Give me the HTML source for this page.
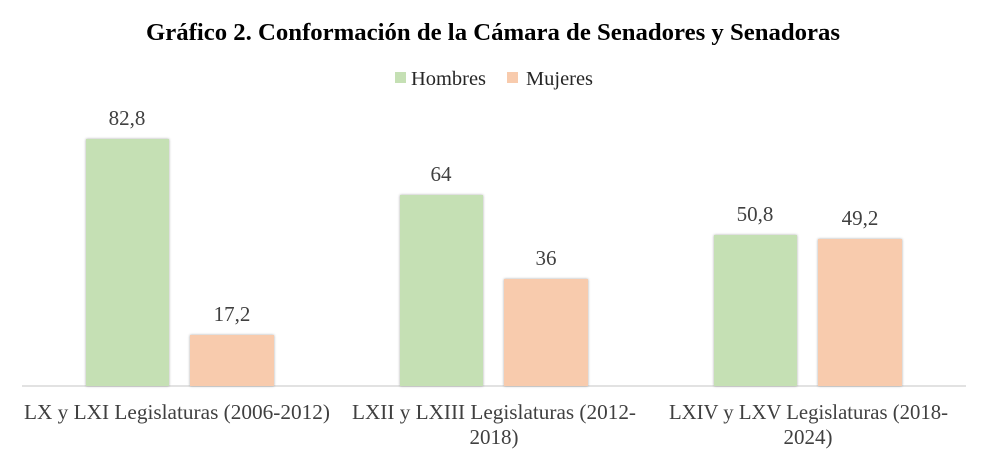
<!DOCTYPE html>
<html><head><meta charset="utf-8"><style>
body{margin:0;background:#fff;}
svg text{font-family:"Liberation Serif",serif;fill:#404040;}
</style></head><body>
<svg width="988" height="461" xmlns="http://www.w3.org/2000/svg">
<defs><filter id="s" x="-10%" y="-10%" width="120%" height="120%"><feDropShadow dx="0" dy="0" stdDeviation="1.2" flood-color="#000" flood-opacity="0.35"/></filter></defs>
<text x="146" y="40" textLength="694" lengthAdjust="spacingAndGlyphs" font-size="24" font-weight="bold" style="fill:#000">Gráfico 2. Conformación de la Cámara de Senadores y Senadoras</text>
<rect x="395" y="72" width="11" height="11" fill="#c5e0b4"/>
<text x="411" y="85" textLength="75" lengthAdjust="spacingAndGlyphs" font-size="20" style="fill:#262626">Hombres</text>
<rect x="507" y="72" width="11" height="11" fill="#f8cbad"/>
<text x="526" y="85" textLength="67" lengthAdjust="spacingAndGlyphs" font-size="20" style="fill:#262626">Mujeres</text>
<line x1="22" y1="386" x2="966" y2="386" stroke="#d9d9d9" stroke-width="1.5"/>
<g filter="url(#s)">
<rect x="86" y="139" width="83" height="247" fill="#c5e0b4"/>
<rect x="190" y="335" width="84" height="51" fill="#f8cbad"/>
<rect x="400" y="195" width="83" height="191" fill="#c5e0b4"/>
<rect x="504" y="279" width="84" height="107" fill="#f8cbad"/>
<rect x="714" y="235" width="83" height="151" fill="#c5e0b4"/>
<rect x="818" y="239" width="84" height="147" fill="#f8cbad"/>
</g>
<g font-size="21" text-anchor="middle">
<text x="127" y="125">82,8</text>
<text x="232" y="321">17,2</text>
<text x="441" y="181">64</text>
<text x="546" y="265">36</text>
<text x="755" y="221">50,8</text>
<text x="860" y="225">49,2</text>
</g>
<g font-size="21">
<text x="24" y="419" textLength="306" lengthAdjust="spacingAndGlyphs">LX y LXI Legislaturas (2006-2012)</text>
<text x="352" y="419" textLength="284" lengthAdjust="spacingAndGlyphs">LXII y LXIII Legislaturas (2012-</text>
<text x="494" y="444" text-anchor="middle">2018)</text>
<text x="669" y="419" textLength="279" lengthAdjust="spacingAndGlyphs">LXIV y LXV Legislaturas (2018-</text>
<text x="808" y="444" text-anchor="middle">2024)</text>
</g>
</svg>
</body></html>
